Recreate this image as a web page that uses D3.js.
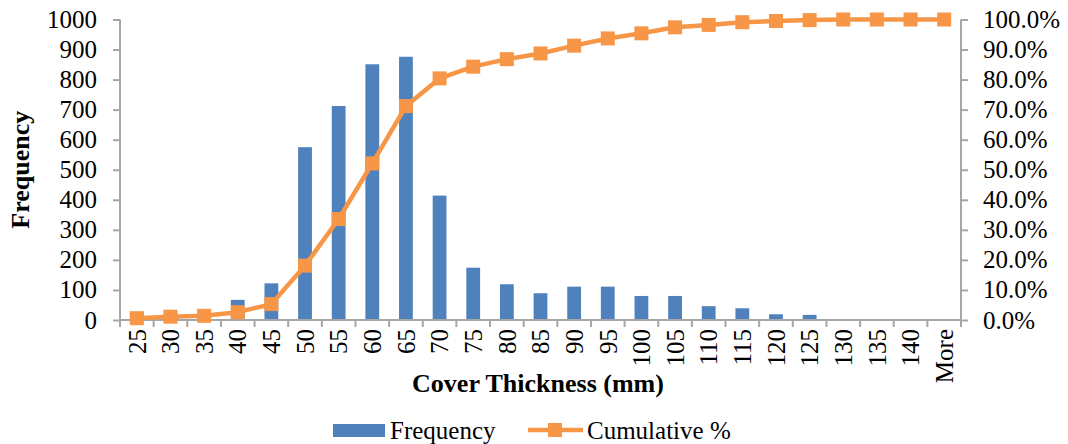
<!DOCTYPE html>
<html>
<head>
<meta charset="utf-8">
<script src="https://cdn.jsdelivr.net/npm/d3@7"></script>
<style>
  body { margin: 0; background: #fff; }
  svg text { font-family: "Liberation Serif", "Times New Roman", serif; fill: #000; }
</style>
</head>
<body>
<svg id="chart"></svg>
<script>
var width = 1068;
var height = 444;

// data
var categories = ["25","30","35","40","45","50","55","60","65","70","75","80","85",
                  "90","95","100","105","110","115","120","125","130","135","140","More"];
var frequency = [25, 22, 15, 67, 122, 575, 712, 851, 876, 414, 174, 119, 89,
                 111, 111, 80, 80, 46, 39, 19, 17, 3, 0, 0, 0];
var cumulative = [0.6, 1.1, 1.4, 2.6, 5.3, 18.1, 33.6, 52.1, 71.2, 80.4, 84.3, 86.8, 88.7,
                  91.3, 93.7, 95.4, 97.4, 98.2, 99.1, 99.5, 99.8, 100, 100, 100, 100];
var leftTicks = [0,100,200,300,400,500,600,700,800,900,1000];
var rightTicks = [0,10,20,30,40,50,60,70,80,90,100];

var barColor = "#4F81BD";
var lineColor = "#F79646";
var axisColor = "#A6A6A6";

var margin = {left: 120, right: 107, top: 19.5, bottom: 124};
var plotW = width - margin.left - margin.right;
var plotH = height - margin.top - margin.bottom;

var svg = d3.select("#chart")
    .attr("width", width)
    .attr("height", height);

var g = svg.append("g")
    .attr("transform", "translate(" + margin.left + "," + margin.top + ")");

var x = d3.scaleBand().domain(categories).range([0, plotW]);
var yL = d3.scaleLinear().domain([0, 1000]).range([plotH, 0]);
var yR = d3.scaleLinear().domain([0, 100]).range([plotH, 0]);

var barW = x.bandwidth() * 0.41;

// bars
g.selectAll(".bar")
    .data(frequency)
    .enter().append("rect")
    .attr("class", "bar")
    .attr("x", function(d, i){ return x(categories[i]) + (x.bandwidth() - barW) / 2; })
    .attr("y", function(d){ return yL(d); })
    .attr("width", barW)
    .attr("height", function(d){ return plotH - yL(d); })
    .style("fill", barColor);

// left axis
var leftAxis = g.append("g")
    .call(d3.axisLeft(yL).tickValues(leftTicks).tickSize(7).tickPadding(16)
          .tickFormat(d3.format("d")));
// right axis
var rightAxis = g.append("g")
    .attr("transform", "translate(" + plotW + ",0)")
    .call(d3.axisRight(yR).tickValues(rightTicks).tickSize(7).tickPadding(15)
          .tickFormat(function(d){ return d.toFixed(1) + "%"; }));
// bottom axis
var bottomAxis = g.append("g")
    .attr("transform", "translate(0," + plotH + ")")
    .call(d3.axisBottom(x).tickSize(0).tickPadding(0));

bottomAxis.selectAll(".tick text")
    .attr("transform", "rotate(-90)")
    .attr("x", -9)
    .attr("y", 0)
    .attr("dy", "0.35em")
    .style("text-anchor", "end");

// category boundary ticks on the x axis
var bounds = categories.map(function(c){ return x(c); }).concat([plotW]);
bottomAxis.selectAll(".btick")
    .data(bounds)
    .enter().append("line")
    .attr("class", "btick")
    .attr("x1", function(d){ return d; })
    .attr("x2", function(d){ return d; })
    .attr("y1", 0)
    .attr("y2", 7);

[leftAxis, rightAxis, bottomAxis].forEach(function(a){
    a.selectAll("path.domain").attr("stroke", axisColor).attr("stroke-width", 2);
    a.selectAll("line").attr("stroke", axisColor).attr("stroke-width", 2);
    a.selectAll("text").style("font-size", "25px")
        .style("font-family", "Liberation Serif").attr("fill", "#000");
});
leftAxis.select("path.domain").attr("d", "M0," + plotH + "V0");
rightAxis.select("path.domain").attr("d", "M0," + plotH + "V0");
bottomAxis.select("path.domain").attr("d", "M0,0H" + plotW);

// cumulative line
var line = d3.line()
    .x(function(d, i){ return x(categories[i]) + x.bandwidth() / 2; })
    .y(function(d){ return yR(d); });

g.append("path")
    .datum(cumulative)
    .attr("d", line)
    .style("fill", "none")
    .style("stroke", lineColor)
    .style("stroke-width", 4.5)
    .style("stroke-linejoin", "round");

var ms = 14;
g.selectAll(".marker")
    .data(cumulative)
    .enter().append("rect")
    .attr("class", "marker")
    .attr("x", function(d, i){ return x(categories[i]) + x.bandwidth() / 2 - ms / 2; })
    .attr("y", function(d){ return yR(d) - ms / 2; })
    .attr("width", ms)
    .attr("height", ms)
    .style("fill", lineColor);

// axis titles
svg.append("text")
    .attr("transform", "translate(29," + (margin.top + plotH / 2) + ") rotate(-90)")
    .attr("text-anchor", "middle")
    .style("font-size", "26px")
    .style("font-weight", "bold")
    .text("Frequency");

svg.append("text")
    .attr("x", 538)
    .attr("y", 392)
    .attr("text-anchor", "middle")
    .style("font-size", "26px")
    .style("font-weight", "bold")
    .text("Cover Thickness (mm)");

// legend
var legend = svg.append("g");
legend.append("rect")
    .attr("x", 333).attr("y", 424)
    .attr("width", 52).attr("height", 13)
    .style("fill", barColor);
legend.append("text")
    .attr("x", 390).attr("y", 439)
    .style("font-size", "25px")
    .text("Frequency");
legend.append("line")
    .attr("x1", 528).attr("x2", 583)
    .attr("y1", 430).attr("y2", 430)
    .style("stroke", lineColor)
    .style("stroke-width", 4.5);
legend.append("rect")
    .attr("x", 548).attr("y", 423)
    .attr("width", 14).attr("height", 14)
    .style("fill", lineColor);
legend.append("text")
    .attr("x", 587).attr("y", 439)
    .style("font-size", "25px")
    .text("Cumulative %");
</script>
</body>
</html>
